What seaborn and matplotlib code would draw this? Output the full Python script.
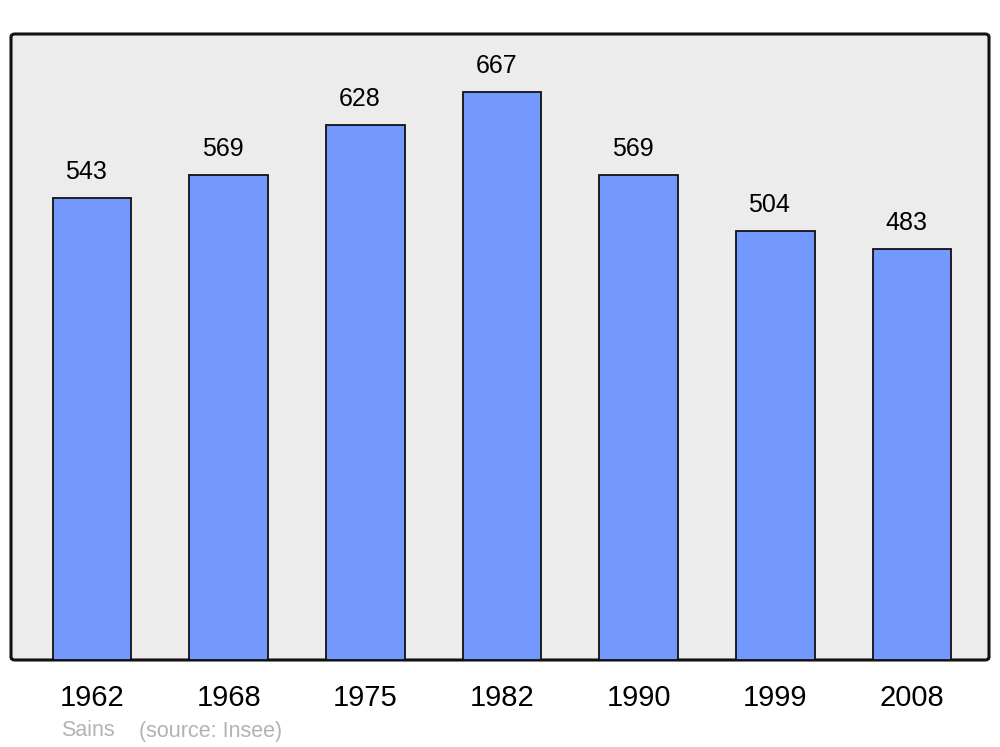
import matplotlib
matplotlib.use("Agg")
import matplotlib.pyplot as plt
from matplotlib.patches import FancyBboxPatch
import seaborn as sns
import pandas as pd

years = ["1962", "1968", "1975", "1982", "1990", "1999", "2008"]
population = [543, 569, 628, 667, 569, 504, 483]
commune = "Sains"
source = "(source: Insee)"

sns.set_theme(style="white")
plt.rcParams["font.family"] = ["Liberation Sans", "DejaVu Sans"]

df = pd.DataFrame({"year": years, "pop": population})

fig = plt.figure(figsize=(10, 7.47), dpi=100)
ax = fig.add_axes([11/1000, 1 - 660/747, 978/1000, 626/747])
ax.set_facecolor("none")
ax.set_zorder(2)

# rounded background frame
frame = FancyBboxPatch((11/1000, 1 - 660/747), 978/1000, 626/747,
                       boxstyle="round,pad=0,rounding_size=0.004",
                       transform=fig.transFigure, facecolor="#ececec",
                       edgecolor="#111111", linewidth=2.2, zorder=-1)
fig.patches.append(frame)

sns.barplot(data=df, x="year", y="pop", color="#7399ff", saturation=1,
            edgecolor="#111111", linewidth=1.3, width=0.575, ax=ax, zorder=2)

ax.set_xlim(-0.593, 6.563)
ax.set_ylim(0, 735)
for s in ax.spines.values():
    s.set_visible(False)
ax.set_yticks([])
ax.set_xlabel("")
ax.set_ylabel("")
ax.tick_params(axis="x", length=0, labelsize=21, pad=17, colors="black")
for lbl in ax.get_xticklabels():
    lbl.set_x(lbl.get_position()[0])

for i, v in enumerate(population):
    ax.annotate(str(v), (i, v), xytext=(-4.3, 10), textcoords="offset points",
                ha="center", va="bottom", fontsize=18, color="black")

fig.text(61/1000, 1 - 731/747, commune, fontsize=15.5, color="#b3b3b3",
         ha="left", va="center")
fig.text(139/1000, 1 - 731/747, source, fontsize=15.5, color="#b3b3b3",
         ha="left", va="center")

fig.savefig("out.png", dpi=100)
